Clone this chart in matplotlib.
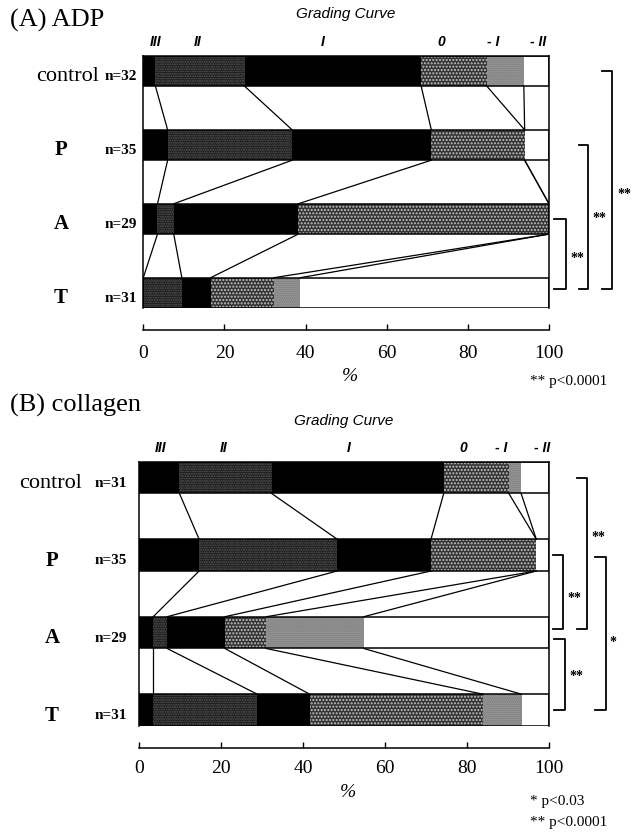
import numpy as np
import matplotlib.pyplot as plt
from matplotlib.transforms import blended_transform_factory

plt.rcParams['font.family'] = ['Liberation Serif', 'DejaVu Serif']
plt.rcParams['hatch.linewidth'] = 1.0

# grading curve categories and groups
grades = ['III', 'II', 'I', '0', '- I', '- II']
groups = ['control', 'P', 'A', 'T']

# (A) ADP, percentage of each grade per group
adp_n = [32, 35, 29, 31]
adp_control = [3.0, 22.0, 43.5, 16.2, 9.1, 6.2]
adp_p = [6.0, 30.7, 34.3, 23.0, 0.0, 6.0]
adp_a = [3.5, 4.0, 30.7, 61.8, 0.0, 0.0]
adp_t = [0.0, 9.5, 7.1, 15.6, 6.5, 61.3]

# (B) collagen
col_n = [31, 35, 29, 31]
col_control = [9.8, 22.5, 42.0, 15.9, 3.0, 6.8]
col_p = [14.6, 33.7, 22.9, 25.7, 0.0, 3.1]
col_a = [3.4, 3.4, 14.1, 10.1, 23.8, 45.2]
col_t = [3.4, 25.4, 12.8, 42.3, 9.4, 6.7]

# significance brackets: (row from, row to, stars)
adp_sig = [(2, 3, '**'), (1, 3, '**'), (0, 3, '**')]
col_sig = [(1, 2, '**'), (0, 2, '**'), (2, 3, '**'), (1, 3, '*')]

fills = ['black', '#141414', 'black', '#333333', '#a4a4a4', 'white']
hatches = [None, '.......', None, '.....', '........', None]
hatch_cols = ['black', '#5c5c5c', 'black', '#c4c4c4', '#707070', 'white']

SANS = 'Liberation Sans'
H = 0.41

fig = plt.figure(figsize=(6.41, 8.38), dpi=100)


def panel(rect, data, ns, title, title_y, grade_x, sig, br_x, star_y,
          name_x, n_x, pad, label_y, legend):
    ax = fig.add_axes(rect)
    data = np.array(data)
    cum = np.hstack([np.zeros((len(data), 1)), np.cumsum(data, axis=1)])
    rows = np.arange(len(data))
    for j in range(len(grades)):
        ax.barh(rows, data[:, j], left=cum[:, j], height=H, color=fills[j],
                hatch=hatches[j], edgecolor=hatch_cols[j], linewidth=0)
    ax.barh(rows, 100, height=H, fill=False, edgecolor='black', linewidth=1.1)
    # connecting lines between the boundaries of neighbouring bars
    for i in range(len(data) - 1):
        for k in range(1, len(grades)):
            ax.plot([cum[i, k], cum[i + 1, k]], [i + H / 2, i + 1 - H / 2],
                    color='black', lw=0.9)
    ax.set_xlim(0, 100)
    ax.set_ylim(len(data) - 1 + H / 2, -H / 2)
    ax.set_yticks([])
    ax.set_xticks(np.arange(0, 101, 20))
    ax.tick_params(axis='x', direction='in', length=4, width=1, pad=pad,
                   labelsize=14)
    ax.spines['bottom'].set_position(('outward', 15.8))
    for s in ax.spines.values():
        s.set_linewidth(1.1)
    ax.text(0.51, label_y, '%', transform=ax.transAxes, ha='center',
            va='center', fontsize=14, style='italic')

    tr = blended_transform_factory(ax.transAxes, ax.transData)
    for i, g in enumerate(groups):
        if g == 'control':
            ax.text(name_x[0], i + 0.07, g, transform=tr, ha='right',
                    va='center', fontsize=16)
        else:
            ax.text(name_x[1], i + 0.07, g, transform=tr, ha='center',
                    va='center', fontsize=15, weight='bold')
        ax.text(n_x, i + 0.07, f'n={ns[i]}', transform=tr, ha='right',
                va='center', fontsize=11, weight='bold')

    for (r0, r1, st), (xb, xt, xs, dy0, dy1), sy in zip(sig, br_x, star_y):
        ax.plot([xt, xb, xb, xt], [r0 + dy0, r0 + dy0, r1 + dy1, r1 + dy1],
                transform=tr, color='black', lw=1.3, clip_on=False)
        ax.text(xs, sy, st, transform=tr, ha='center', va='center',
                fontsize=10, weight='bold')

    # grading curve header
    ax.text(0.5, title_y[1], 'Grading Curve', transform=ax.transAxes,
            ha='center', va='center', fontsize=11, family=SANS,
            style='italic')
    for gx, gname in zip(grade_x, grades):
        ax.text(gx, title_y[2], gname, transform=blended_transform_factory(
            ax.transData, ax.transAxes), ha='center', va='center',
            fontsize=10, family=SANS, style='italic', weight='bold')
    ax.text(title_y[0][0], title_y[0][1], title, transform=ax.transAxes,
            ha='left', va='center', fontsize=19)
    for (lx, ly, txt) in legend:
        ax.text(lx, ly, txt, transform=ax.transAxes, ha='left', va='center',
                fontsize=11)
    return ax


# panel A: bars frame from x 143..549 px, y 56..308 px
panel([143.3 / 641, 1 - 308 / 838, 405.7 / 641, 252 / 838],
      [adp_control, adp_p, adp_a, adp_t], adp_n, '(A) ADP',
      [((10 - 143.3) / 405.7, (308 - 20) / 252), (308 - 14) / 252,
       (308 - 42) / 252],
      [3.1, 13.5, 44.3, 73.4, 86.2, 97.3],
      adp_sig,
      [(1.042, 1.013, 1.069, 0.0, -0.05), (1.096, 1.074, 1.125, 0.0, -0.05),
       (1.155, 1.130, 1.186, 0.0, -0.05)],
      [2.53, 1.99, 1.67],
      [-0.11, -0.203], -0.0155, 11, (308 - 376) / 252,
      [((530 - 143.3) / 405.7, (308 - 381) / 252, '** p<0.0001')])

# panel B: bars frame from x 139..549 px, y 462..726 px
panel([139.3 / 641, 1 - 726 / 838, 409.7 / 641, 264.3 / 838],
      [col_control, col_p, col_a, col_t], col_n, '(B) collagen',
      [((10 - 139.3) / 409.7, (726 - 405) / 264.3), (726 - 421) / 264.3,
       (726 - 448) / 264.3],
      [5.1, 20.7, 51.0, 79.2, 88.3, 98.3],
      col_sig,
      [(1.034, 1.010, 1.063, 0.0, -0.05), (1.093, 1.068, 1.120, 0.0, -0.05),
       (1.039, 1.013, 1.068, 0.08, 0.0), (1.139, 1.112, 1.156, 0.03, 0.0)],
      [1.56, 0.77, 2.57, 2.13],
      [-0.14, -0.213], -0.029, 9, (726 - 792) / 264.3,
      [((530 - 139.3) / 409.7, (726 - 801) / 264.3, '* p<0.03'),
       ((530 - 139.3) / 409.7, (726 - 822) / 264.3, '** p<0.0001')])

fig.savefig('out.png', dpi=100)
